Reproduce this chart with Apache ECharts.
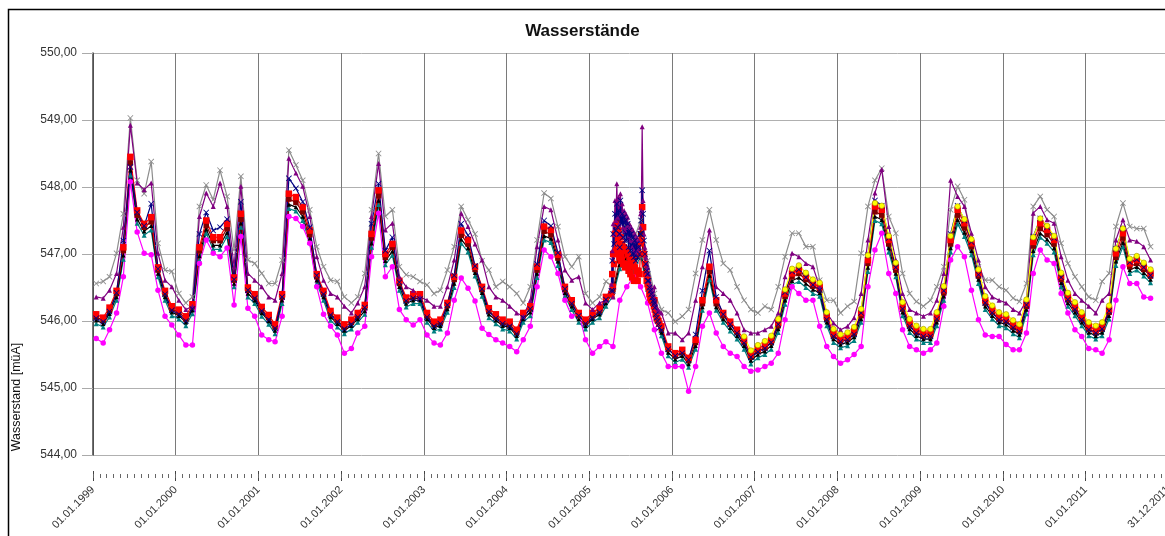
<!DOCTYPE html>
<html>
<head>
<meta charset="utf-8">
<title>Wasserstände</title>
<script src="https://cdn.jsdelivr.net/npm/echarts@6/dist/echarts.min.js"></script>
<style>
  html, body { margin: 0; padding: 0; background: #fff; }
  #chart { width: 1165px; height: 536px; }
</style>
</head>
<body>
<div id="chart"></div>
<script>
// Monthly gauge readings (15th of each month), Jan 1999 .. Oct 2011, in m ü. A.
const FIRST_YEAR = 1999;

const grey = [
  546.56, 546.59, 546.66, 547.01, 547.60, 549.03, 548.10, 547.90, 548.38, 547.16, 546.76, 546.74,
  546.41, 546.27, 546.36, 547.71, 548.03, 547.81, 548.25, 547.86, 547.06, 548.16, 546.91, 546.86,
  546.71, 546.56, 546.56, 546.91, 548.55, 548.33, 548.10, 547.66, 547.11, 546.81, 546.61, 546.59,
  546.36, 546.27, 546.36, 546.71, 547.66, 548.50, 547.56, 547.66, 546.81, 546.69, 546.66, 546.59,
  546.54, 546.41, 546.46, 546.76, 547.11, 547.71, 547.51, 547.30, 546.90, 546.76, 546.51, 546.59,
  546.51, 546.41, 546.27, 546.51, 547.21, 547.91, 547.83, 547.41, 546.96, 546.81, 546.96, 546.41,
  546.27, 546.36, 546.59, 546.51, 547.30, 547.40, 547.20, 547.50, 546.90, 546.41, 546.17, 546.12,
  545.99, 546.07, 546.17, 546.71, 547.21, 547.66, 547.21, 546.86, 546.76, 546.51, 546.31, 546.17,
  546.12, 546.22, 546.17, 546.51, 546.96, 547.31, 547.31, 547.11, 547.11, 546.61, 546.31, 546.31,
  546.12, 546.22, 546.29, 547.01, 547.71, 548.10, 548.28, 547.56, 547.31, 546.71, 546.41, 546.29,
  546.22, 546.31, 546.51, 546.81, 547.66, 548.01, 547.81, 547.16, 546.81, 546.61, 546.61, 546.51,
  546.46, 546.34, 546.29, 546.56, 547.71, 547.86, 547.66, 547.56, 547.16, 546.86, 546.66, 546.51,
  546.36, 546.31, 546.59, 546.71, 547.41, 547.76, 547.41, 547.38, 547.38, 547.11
];

const purple = [
  546.36, 546.34, 546.46, 546.71, 547.40, 548.92, 548.06, 547.96, 548.06, 547.01, 546.61, 546.51,
  546.31, 546.17, 546.22, 547.56, 547.91, 547.71, 548.06, 547.71, 546.81, 548.01, 546.71, 546.61,
  546.51, 546.36, 546.31, 546.71, 548.43, 548.21, 548.01, 547.56, 546.96, 546.61, 546.41, 546.36,
  546.22, 546.12, 546.27, 546.51, 547.56, 548.35, 547.36, 547.46, 546.66, 546.51, 546.46, 546.36,
  546.31, 546.22, 546.22, 546.51, 546.91, 547.61, 547.41, 547.15, 546.91, 546.51, 546.36, 546.31,
  546.22, 546.12, 546.07, 546.31, 547.11, 547.71, 547.66, 547.21, 546.76, 546.61, 546.66, 546.27,
  546.17, 546.27, 546.31, 546.36, 547.30, 547.40, 547.20, 547.60, 546.71, 546.51, 546.12, 545.82,
  545.82, 545.72, 545.82, 546.31, 546.81, 547.36, 546.51, 546.41, 546.31, 546.12, 545.87, 545.82,
  545.82, 545.87, 545.92, 546.12, 546.66, 547.01, 546.96, 546.86, 546.81, 546.51, 546.12, 545.97,
  545.87, 545.92, 546.05, 546.41, 547.21, 547.91, 548.26, 547.41, 546.91, 546.41, 546.17, 546.12,
  546.07, 546.12, 546.31, 546.71, 548.10, 547.86, 547.71, 547.31, 546.91, 546.51, 546.36, 546.31,
  546.27, 546.17, 546.12, 546.31, 547.61, 547.71, 547.51, 547.46, 546.96, 546.61, 546.41, 546.31,
  546.22, 546.12, 546.31, 546.41, 547.21, 547.51, 547.21, 547.19, 547.11, 546.91
];

const navy = [
  546.04, 545.99, 546.14, 546.42, 547.20, 548.30, 547.62, 547.42, 547.75, 546.78, 546.40, 546.16,
  546.10, 546.00, 546.18, 547.30, 547.62, 547.35, 547.40, 547.52, 546.62, 547.78, 546.46, 546.34,
  546.15, 546.02, 545.89, 546.36, 548.13, 547.98, 547.78, 547.40, 546.68, 546.40, 546.09, 545.99,
  545.88, 545.95, 546.06, 546.20, 547.45, 548.05, 547.05, 547.25, 546.58, 546.30, 546.34, 546.33,
  546.06, 545.92, 545.96, 546.24, 546.68, 547.45, 547.28, 546.82, 546.48, 546.14, 546.04, 545.96,
  545.92, 545.81, 546.05, 546.18, 546.85, 547.50, 547.42, 547.02, 546.48, 546.26, 546.08, 545.96,
  546.05, 546.13, 546.32, 546.45, 547.10, 547.20, 547.00, 547.30, 546.60, 546.28, 545.86, 545.58,
  545.48, 545.52, 545.42, 545.80, 546.45, 547.05, 546.36, 546.10, 545.95, 545.82, 545.67, 545.46,
  545.54, 545.59, 545.68, 545.95, 546.43, 546.74, 546.77, 546.65, 546.54, 546.46, 546.02, 545.77,
  545.69, 545.72, 545.80, 546.12, 546.98, 547.80, 547.72, 547.24, 546.80, 546.18, 545.92, 545.82,
  545.77, 545.77, 546.03, 546.45, 547.30, 547.72, 547.50, 547.18, 546.69, 546.27, 546.12, 546.02,
  545.99, 545.90, 545.84, 546.24, 547.26, 547.53, 547.40, 547.24, 546.65, 546.32, 546.17, 546.02,
  545.87, 545.82, 545.88, 546.15, 547.08, 547.38, 546.88, 546.92, 546.80, 546.68
];

const red = [
  546.10, 546.05, 546.20, 546.45, 547.10, 548.45, 547.65, 547.45, 547.55, 546.80, 546.45, 546.22,
  546.17, 546.07, 546.25, 547.10, 547.50, 547.25, 547.25, 547.45, 546.65, 547.60, 546.50, 546.40,
  546.21, 546.09, 545.95, 546.40, 547.90, 547.85, 547.70, 547.35, 546.70, 546.45, 546.15, 546.05,
  545.95, 546.02, 546.12, 546.24, 547.30, 547.95, 547.00, 547.15, 546.60, 546.35, 546.40, 546.40,
  546.12, 545.99, 546.02, 546.27, 546.66, 547.35, 547.21, 546.81, 546.51, 546.19, 546.10, 546.02,
  545.99, 545.87, 546.12, 546.22, 546.81, 547.41, 547.36, 546.99, 546.51, 546.31, 546.12, 546.02,
  546.12, 546.19, 546.36, 546.51, 546.96, 547.06, 546.91, 547.16, 546.61, 546.31, 545.92, 545.62,
  545.52, 545.57, 545.45, 545.72, 546.31, 546.81, 546.31, 546.12, 545.99, 545.87, 545.72, 545.50,
  545.59, 545.64, 545.72, 545.97, 546.41, 546.71, 546.76, 546.66, 546.56, 546.51, 546.07, 545.82,
  545.74, 545.77, 545.85, 546.12, 546.91, 547.71, 547.66, 547.21, 546.81, 546.22, 545.97, 545.87,
  545.82, 545.82, 546.07, 546.46, 547.21, 547.66, 547.46, 547.16, 546.71, 546.31, 546.17, 546.07,
  546.04, 545.95, 545.89, 546.26, 547.18, 547.46, 547.36, 547.21, 546.66, 546.36, 546.22, 546.07,
  545.92, 545.87, 545.92, 546.17, 547.01, 547.31, 546.86, 546.91, 546.81, 546.71
];

const darkRed = [
  546.06, 546.01, 546.16, 546.41, 547.05, 548.36, 547.58, 547.40, 547.48, 546.76, 546.41, 546.18,
  546.13, 546.03, 546.21, 547.05, 547.43, 547.20, 547.20, 547.38, 546.61, 547.52, 546.46, 546.36,
  546.17, 546.05, 545.91, 546.36, 547.82, 547.77, 547.63, 547.29, 546.66, 546.41, 546.11, 546.01,
  545.91, 545.98, 546.08, 546.20, 547.24, 547.87, 546.95, 547.10, 546.56, 546.31, 546.36, 546.36,
  546.08, 545.95, 545.98, 546.23, 546.62, 547.28, 547.15, 546.77, 546.47, 546.15, 546.06, 545.98,
  545.95, 545.83, 546.08, 546.18, 546.76, 547.34, 547.29, 546.94, 546.47, 546.27, 546.08, 545.98,
  546.08, 546.15, 546.32, 546.47, 546.90, 547.00, 546.86, 547.30, 546.57, 546.27, 545.88, 545.58,
  545.48, 545.53, 545.41, 545.68, 546.26, 546.74, 546.26, 546.08, 545.95, 545.83, 545.68, 545.46,
  545.55, 545.60, 545.68, 545.93, 546.37, 546.66, 546.71, 546.62, 546.52, 546.47, 546.03, 545.78,
  545.70, 545.73, 545.81, 546.08, 546.86, 547.63, 547.58, 547.15, 546.76, 546.18, 545.93, 545.83,
  545.78, 545.78, 546.03, 546.42, 547.15, 547.58, 547.39, 547.11, 546.67, 546.27, 546.13, 546.03,
  546.00, 545.91, 545.85, 546.22, 547.12, 547.38, 547.29, 547.15, 546.62, 546.32, 546.18, 546.03,
  545.88, 545.83, 545.88, 546.13, 546.95, 547.24, 546.81, 546.86, 546.77, 546.67
];

const black = [
  546.01, 545.96, 546.11, 546.36, 546.98, 548.25, 547.52, 547.34, 547.42, 546.71, 546.36, 546.13,
  546.08, 545.98, 546.16, 546.97, 547.37, 547.13, 547.13, 547.32, 546.56, 547.46, 546.41, 546.31,
  546.12, 546.00, 545.86, 546.31, 547.74, 547.70, 547.56, 547.23, 546.61, 546.36, 546.06, 545.96,
  545.86, 545.93, 546.03, 546.15, 547.16, 547.80, 546.90, 547.04, 546.51, 546.26, 546.31, 546.31,
  546.03, 545.90, 545.93, 546.18, 546.56, 547.22, 547.09, 546.72, 546.42, 546.10, 546.01, 545.93,
  545.90, 545.78, 546.03, 546.13, 546.71, 547.27, 547.23, 546.89, 546.42, 546.22, 546.03, 545.93,
  546.03, 546.10, 546.27, 546.42, 546.84, 546.94, 546.80, 547.03, 546.52, 546.22, 545.83, 545.53,
  545.43, 545.48, 545.36, 545.63, 546.21, 546.68, 546.21, 546.03, 545.90, 545.78, 545.63, 545.41,
  545.50, 545.55, 545.63, 545.88, 546.31, 546.60, 546.65, 546.56, 546.47, 546.42, 545.98, 545.73,
  545.65, 545.68, 545.76, 546.03, 546.80, 547.56, 547.51, 547.09, 546.71, 546.13, 545.88, 545.78,
  545.73, 545.73, 545.98, 546.37, 547.09, 547.51, 547.32, 547.05, 546.62, 546.22, 546.08, 545.98,
  545.95, 545.86, 545.80, 546.17, 547.05, 547.31, 547.22, 547.09, 546.57, 546.27, 546.13, 545.98,
  545.83, 545.78, 545.83, 546.08, 546.89, 547.17, 546.76, 546.81, 546.72, 546.62
];

const teal = [
  545.96, 545.91, 546.06, 546.31, 546.92, 548.18, 547.46, 547.28, 547.36, 546.66, 546.31, 546.08,
  546.03, 545.93, 546.11, 546.91, 547.31, 547.07, 547.07, 547.26, 546.51, 547.40, 546.36, 546.26,
  546.07, 545.95, 545.81, 546.26, 547.68, 547.64, 547.50, 547.17, 546.56, 546.31, 546.01, 545.91,
  545.81, 545.88, 545.98, 546.10, 547.10, 547.74, 546.84, 546.98, 546.46, 546.21, 546.26, 546.26,
  545.98, 545.85, 545.88, 546.13, 546.50, 547.16, 547.03, 546.67, 546.37, 546.05, 545.96, 545.88,
  545.85, 545.73, 545.98, 546.08, 546.65, 547.21, 547.17, 546.83, 546.37, 546.17, 545.98, 545.88,
  545.98, 546.05, 546.22, 546.37, 546.78, 546.88, 546.74, 546.97, 546.47, 546.17, 545.78, 545.48,
  545.38, 545.43, 545.31, 545.58, 546.16, 546.62, 546.16, 545.98, 545.85, 545.73, 545.58, 545.36,
  545.45, 545.50, 545.58, 545.83, 546.25, 546.54, 546.59, 546.50, 546.41, 546.37, 545.93, 545.68,
  545.60, 545.63, 545.71, 545.98, 546.74, 547.50, 547.45, 547.03, 546.66, 546.08, 545.83, 545.73,
  545.68, 545.68, 545.93, 546.31, 547.03, 547.45, 547.26, 546.99, 546.56, 546.17, 546.03, 545.93,
  545.90, 545.81, 545.75, 546.11, 546.99, 547.25, 547.16, 547.03, 546.51, 546.22, 546.08, 545.93,
  545.78, 545.73, 545.78, 546.03, 546.83, 547.11, 546.71, 546.76, 546.67, 546.57
];

const magenta = [
  545.74, 545.67, 545.87, 546.12, 546.66, 548.08, 547.33, 547.01, 546.99, 546.46, 546.07, 545.94,
  545.79, 545.64, 545.64, 546.86, 547.21, 547.01, 546.96, 547.09, 546.24, 547.26, 546.19, 546.07,
  545.79, 545.72, 545.69, 546.07, 547.56, 547.53, 547.41, 547.16, 546.51, 546.10, 545.92, 545.79,
  545.52, 545.59, 545.82, 545.92, 546.96, 547.61, 546.66, 546.81, 546.17, 546.02, 545.94, 546.02,
  545.79, 545.67, 545.64, 545.82, 546.31, 546.64, 546.49, 546.30, 545.89, 545.80, 545.72, 545.67,
  545.62, 545.54, 545.72, 545.92, 546.51, 547.06, 546.96, 546.71, 546.31, 546.07, 546.12, 545.72,
  545.52, 545.62, 545.69, 545.62, 546.31, 546.51, 546.66, 546.51, 546.27, 545.87, 545.52, 545.32,
  545.32, 545.32, 544.95, 545.32, 545.92, 546.12, 545.82, 545.62, 545.52, 545.47, 545.32, 545.25,
  545.27, 545.32, 545.37, 545.52, 546.02, 546.51, 546.41, 546.31, 546.31, 545.92, 545.62, 545.47,
  545.37, 545.42, 545.50, 545.62, 546.51, 547.06, 547.31, 546.71, 546.41, 545.87, 545.62, 545.57,
  545.52, 545.57, 545.67, 546.22, 546.91, 547.11, 546.96, 546.46, 546.02, 545.79, 545.77, 545.77,
  545.65, 545.57, 545.57, 545.82, 546.71, 547.06, 546.91, 546.86, 546.41, 546.12, 545.87, 545.77,
  545.59, 545.57, 545.52, 545.72, 546.31, 546.81, 546.56, 546.56, 546.36, 546.34
];

// Yellow gauge starts in November 2006 (month index 94)
const YELLOW_START = 94;
const yellow = [
  545.77, 545.56,
  545.64, 545.70, 545.78, 546.03, 546.47, 546.78, 546.83, 546.72, 546.62, 546.57, 546.13, 545.88,
  545.80, 545.83, 545.91, 546.18, 546.98, 547.76, 547.72, 547.27, 546.87, 546.28, 546.03, 545.93,
  545.88, 545.88, 546.13, 546.52, 547.27, 547.71, 547.52, 547.22, 546.77, 546.37, 546.23, 546.13,
  546.10, 546.01, 545.95, 546.32, 547.25, 547.53, 547.42, 547.27, 546.72, 546.42, 546.28, 546.13,
  545.98, 545.93, 545.98, 546.23, 547.08, 547.38, 546.93, 546.97, 546.87, 546.77
];

// Four-day readings during the 2005 flood season (three gauges)
const denseDates2005 = [
  '2005-04-08', '2005-04-12', '2005-04-16', '2005-04-20', '2005-04-24', '2005-04-28',
  '2005-05-02', '2005-05-06', '2005-05-10', '2005-05-14', '2005-05-18', '2005-05-22', '2005-05-26', '2005-05-30',
  '2005-06-03', '2005-06-07', '2005-06-11', '2005-06-15', '2005-06-19', '2005-06-23', '2005-06-27',
  '2005-07-01', '2005-07-05', '2005-07-09', '2005-07-13', '2005-07-17', '2005-07-21', '2005-07-25', '2005-07-29',
  '2005-08-02', '2005-08-06', '2005-08-10', '2005-08-14', '2005-08-18', '2005-08-22', '2005-08-26', '2005-08-30',
  '2005-09-03', '2005-09-07', '2005-09-11', '2005-09-15', '2005-09-19', '2005-09-23', '2005-09-27',
  '2005-10-01', '2005-10-05', '2005-10-09', '2005-10-13', '2005-10-17', '2005-10-21', '2005-10-25', '2005-10-29',
  '2005-11-02', '2005-11-06'
];
const navyDense2005 = [
  546.45, 546.90, 547.30, 547.15, 547.60, 547.35,
  547.75, 547.40, 547.65, 547.30, 547.80, 547.45, 547.60, 547.25,
  547.55, 547.20, 547.50, 547.30, 547.45, 547.10, 547.35,
  547.05, 547.30, 547.00, 547.25, 546.95, 547.20, 546.90, 547.15,
  546.95, 547.10, 547.00, 547.30, 547.50, 547.95, 547.60, 547.20,
  547.00, 546.85, 546.75, 546.70, 546.60, 546.50, 546.45,
  546.40, 546.35, 546.30, 546.25, 546.20, 546.10, 546.05, 546.00,
  545.95, 545.90
];
const purpleDense2005 = [
  546.55, 547.05, 547.45, 547.30, 547.80, 547.50,
  548.05, 547.55, 547.85, 547.45, 547.90, 547.60, 547.75, 547.40,
  547.65, 547.35, 547.60, 547.40, 547.55, 547.25, 547.45,
  547.20, 547.40, 547.10, 547.35, 547.05, 547.30, 547.00, 547.25,
  547.05, 547.20, 547.10, 547.40, 547.65, 548.90, 547.80, 547.30,
  547.10, 546.95, 546.85, 546.80, 546.70, 546.60, 546.55,
  546.50, 546.45, 546.40, 546.35, 546.30, 546.25, 546.20, 546.18,
  546.16, 546.14
];
const redDense2005 = [
  546.40, 546.70, 547.00, 546.85, 547.30, 547.05,
  547.45, 547.00, 547.35, 546.95, 547.25, 546.90, 547.15, 546.85,
  547.10, 546.80, 547.05, 546.85, 547.00, 546.75, 546.95,
  546.70, 546.90, 546.65, 546.85, 546.60, 546.80, 546.60, 546.75,
  546.60, 546.75, 546.70, 547.00, 547.20, 547.70, 547.40, 547.00,
  546.85, 546.70, 546.60, 546.55, 546.50, 546.40, 546.35,
  546.32, 546.30, 546.27, 546.22, 546.17, 546.10, 546.05, 546.02,
  546.00, 545.96
];

const AXIS_START = '1999-01-01';
const AXIS_END = '2011-12-31';
const DAY_MS = 24 * 3600 * 1000;
const FONT = '"Liberation Sans", Arial, sans-serif';

function pad2(n) { return (n < 10 ? '0' : '') + n; }
function monthDate(i) {
  return (FIRST_YEAR + Math.floor(i / 12)) + '-' + pad2(i % 12 + 1) + '-15';
}
function toPoints(values, startIndex) {
  return values.map((v, i) => [monthDate(startIndex + i), v]);
}
function withDense(values, denseValues) {
  const pts = toPoints(values, 0).concat(denseDates2005.map((d, i) => [d, denseValues[i]]));
  pts.sort((a, b) => (a[0] < b[0] ? -1 : a[0] > b[0] ? 1 : 0));
  return pts;
}
function fmtDate(v) {
  const d = new Date(v);
  return pad2(d.getDate()) + '.' + pad2(d.getMonth() + 1) + '.' + d.getFullYear();
}

const CROSS = 'path://M1,0L5,4L9,0L10,1L6,5L10,9L9,10L5,6L1,10L0,9L4,5L0,1Z';

function line(name, color, symbol, size, data, extra) {
  return Object.assign({
    name: name,
    type: 'line',
    data: data,
    symbol: symbol,
    symbolSize: size,
    showSymbol: true,
    showAllSymbol: true,
    lineStyle: { color: color, width: 1.2 },
    itemStyle: { color: color },
    emphasis: { disabled: true }
  }, extra || {});
}

const chart = echarts.init(document.getElementById('chart'), null, { renderer: 'canvas' });

chart.setOption({
  animation: false,
  backgroundColor: '#ffffff',
  title: {
    text: 'Wasserstände',
    left: 'center',
    top: 23,
    padding: 0,
    textStyle: { fontFamily: FONT, fontSize: 17, fontWeight: 'bold', color: '#111' }
  },
  grid: { left: 93, top: 53, width: 1075, height: 402, containLabel: false, outerBoundsMode: 'none' },
  xAxis: [
    {
      type: 'time',
      position: 'bottom',
      min: AXIS_START,
      max: AXIS_END,
      offset: 16,
      minInterval: 365 * DAY_MS,
      maxInterval: 366 * DAY_MS,
      axisLine: { show: false },
      axisTick: { show: true, length: 10, lineStyle: { color: '#444', width: 1 } },
      axisLabel: {
        rotate: 45, fontSize: 11, color: '#333', fontFamily: FONT, margin: 17,
        formatter: fmtDate, showMinLabel: true, showMaxLabel: true, hideOverlap: false
      },
      splitLine: { show: true, lineStyle: { color: '#7a7a7a', width: 1 } }
    },
    {
      type: 'time',
      position: 'bottom',
      min: AXIS_START,
      max: AXIS_END,
      offset: 19,
      minInterval: 28 * DAY_MS,
      maxInterval: 31 * DAY_MS,
      axisLine: { show: false },
      axisTick: { show: true, length: 4, lineStyle: { color: '#666', width: 1 } },
      axisLabel: { show: false },
      splitLine: { show: false }
    }
  ],
  yAxis: {
    type: 'value',
    min: 544,
    max: 550,
    interval: 1,
    axisLine: { show: true, lineStyle: { color: '#444', width: 1.5 } },
    axisTick: { show: true, length: 11, lineStyle: { color: '#aaa', width: 1 } },
    axisLabel: {
      fontSize: 12, color: '#333', fontFamily: FONT, margin: 16,
      formatter: v => v.toFixed(2).replace('.', ',')
    },
    splitLine: { show: true, lineStyle: { color: '#b0b0b0', width: 1 } }
  },
  graphic: [
    {
      type: 'rect',
      shape: { x: 8.5, y: 9.5, width: 1200, height: 600 },
      style: { fill: 'none', stroke: '#000', lineWidth: 1.5 },
      silent: true
    },
    {
      type: 'text',
      x: 17, y: 397,
      rotation: Math.PI / 2,
      style: {
        text: 'Wasserstand [müA]',
        font: '12.5px ' + FONT,
        fill: '#111',
        align: 'center',
        verticalAlign: 'middle'
      },
      silent: true
    }
  ],
  series: [
    line('grey', '#8c8c8c', CROSS, 6, toPoints(grey, 0)),
    line('teal', '#008080', 'triangle', 5, toPoints(teal, 0)),
    line('black', '#000000', 'triangle', 4.5, toPoints(black, 0)),
    line('magenta', '#ff00ff', 'circle', 5.5, toPoints(magenta, 0)),
    line('darkred', '#800000', 'rect', 5.5, toPoints(darkRed, 0)),
    line('red', '#ff0000', 'rect', 6.5, withDense(red, redDense2005)),
    line('purple', '#800080', 'triangle', 5, withDense(purple, purpleDense2005)),
    line('navy', '#000080', CROSS, 6, withDense(navy, navyDense2005)),
    line('yellow', '#ffff00', 'circle', 5.5, toPoints(yellow, YELLOW_START), {
      itemStyle: { color: '#ffff00', borderColor: '#9a8f00', borderWidth: 0.6 }
    })
  ]
});
</script>
</body>
</html>
